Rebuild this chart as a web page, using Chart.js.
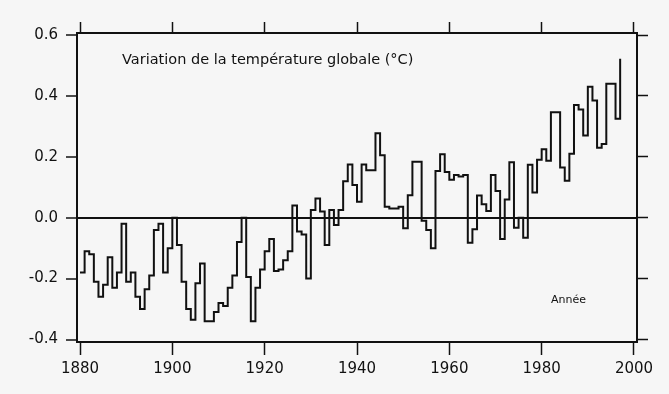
<!DOCTYPE html>
<html lang="fr">
<head>
<meta charset="utf-8">
<title>Variation de la température globale</title>
<script src="https://cdn.jsdelivr.net/npm/chart.js@4.4.1/dist/chart.umd.min.js"></script>
<style>
  html, body { margin: 0; padding: 0; background: #f6f6f6; }
  #graficoTemp { display: block; }
</style>
</head>
<body>
<canvas id="graficoTemp" width="669" height="394"></canvas>
<script>
// valeurs (écart en °C)
const annees = [
  1880, 1881, 1882, 1883, 1884, 1885, 1886, 1887, 1888, 1889,
  1890, 1891, 1892, 1893, 1894, 1895, 1896, 1897, 1898, 1899,
  1900, 1901, 1902, 1903, 1904, 1905, 1906, 1907, 1908, 1909,
  1910, 1911, 1912, 1913, 1914, 1915, 1916, 1917, 1918, 1919,
  1920, 1921, 1922, 1923, 1924, 1925, 1926, 1927, 1928, 1929,
  1930, 1931, 1932, 1933, 1934, 1935, 1936, 1937, 1938, 1939,
  1940, 1941, 1942, 1943, 1944, 1945, 1946, 1947, 1948, 1949,
  1950, 1951, 1952, 1953, 1954, 1955, 1956, 1957, 1958, 1959,
  1960, 1961, 1962, 1963, 1964, 1965, 1966, 1967, 1968, 1969,
  1970, 1971, 1972, 1973, 1974, 1975, 1976, 1977, 1978, 1979,
  1980, 1981, 1982, 1983, 1984, 1985, 1986, 1987, 1988, 1989,
  1990, 1991, 1992, 1993, 1994, 1995, 1996, 1997
];
const temperatures = [
  -0.18, -0.11, -0.12, -0.21, -0.26, -0.22, -0.13, -0.23, -0.18, -0.02,
  -0.21, -0.18, -0.26, -0.30, -0.235, -0.19, -0.04, -0.02, -0.18, -0.10,
  0.00, -0.09, -0.21, -0.30, -0.335, -0.215, -0.15, -0.34, -0.34, -0.31,
  -0.28, -0.29, -0.23, -0.19, -0.08, 0.00, -0.195, -0.34, -0.23, -0.17,
  -0.11, -0.07, -0.175, -0.17, -0.14, -0.11, 0.04, -0.045, -0.055, -0.20,
  0.025, 0.063, 0.02, -0.09, 0.025, -0.024, 0.025, 0.12, 0.175, 0.107,
  0.052, 0.175, 0.156, 0.156, 0.277, 0.205, 0.036, 0.03, 0.03, 0.036,
  -0.035, 0.074, 0.184, 0.184, -0.01, -0.04, -0.10, 0.153, 0.208, 0.15,
  0.125, 0.14, 0.135, 0.14, -0.082, -0.038, 0.073, 0.044, 0.022, 0.14,
  0.088, -0.07, 0.06, 0.182, -0.033, 0.0, -0.066, 0.174, 0.083, 0.19,
  0.225, 0.187, 0.346, 0.346, 0.165, 0.121, 0.21, 0.37, 0.355, 0.27,
  0.43, 0.385, 0.23, 0.242, 0.44, 0.44, 0.325, 0.522
];
const anneesTicks = [1880, 1900, 1920, 1940, 1960, 1980, 2000];
const valeursTicks = [-0.4, -0.2, 0.0, 0.2, 0.4, 0.6];
const titre = 'Variation de la température globale (°C)';
const legendeX = 'Année';

const noir = '#111';
const police = '"DejaVu Sans", "Liberation Sans", sans-serif';

const ticksX = scale => { scale.ticks = anneesTicks.map(v => ({ value: v })); };
const ticksY = scale => { scale.ticks = valeursTicks.map(v => ({ value: v })); };

// textes posés dans le cadre
const textes = {
  id: 'textes',
  afterDraw(chart) {
    const ctx = chart.ctx;
    ctx.save();
    ctx.fillStyle = noir;
    ctx.textBaseline = 'middle';
    ctx.font = '14.5px ' + police;
    ctx.fillText(titre, 122, 60);
    ctx.font = '11px ' + police;
    ctx.fillText(legendeX, 551, 300);
    ctx.restore();
  }
};

const canvas = document.getElementById('graficoTemp');
const ctx = canvas.getContext('2d');

window.graficoTemp = new Chart(ctx, {
  type: 'line',
  data: {
    datasets: [{
      label: titre,
      data: annees.map((a, i) => ({ x: a, y: temperatures[i] })),
      borderColor: noir,
      borderWidth: 2,
      stepped: true,
      pointRadius: 0,
      fill: false,
      borderJoinStyle: 'miter',
      xAxisID: 'x',
      yAxisID: 'y'
    }]
  },
  options: {
    responsive: false,
    animation: false,
    devicePixelRatio: 1,
    layout: { padding: 0 },
    plugins: { legend: { display: false }, tooltip: { enabled: false } },
    scales: {
      x: {
        type: 'linear', position: 'bottom', min: 1879.35, max: 2000.65,
        afterBuildTicks: ticksX,
        afterFit: s => { s.height = 52; },
        grid: { drawOnChartArea: false, tickLength: 13, tickColor: noir, tickWidth: 1.5 },
        border: { color: noir, width: 2 },
        ticks: {
          color: noir, font: { family: police, size: 15 }, padding: 5, maxRotation: 0,
          callback: v => String(v)
        }
      },
      x2: {
        type: 'linear', position: 'top', min: 1879.35, max: 2000.65,
        afterBuildTicks: ticksX,
        afterFit: s => { s.height = 33; },
        grid: { drawOnChartArea: false, tickLength: 11, tickColor: noir, tickWidth: 1.5 },
        border: { color: noir, width: 2 },
        ticks: { display: false }
      },
      y: {
        type: 'linear', position: 'left', min: -0.4082, max: 0.6066,
        afterBuildTicks: ticksY,
        afterFit: s => { s.width = 77; },
        grid: {
          drawOnChartArea: true, tickLength: 11, tickColor: noir, tickWidth: 1.5,
          color: c => (c.tick && c.tick.value === 0 ? noir : 'rgba(0,0,0,0)'),
          lineWidth: 2
        },
        border: { color: noir, width: 2 },
        ticks: {
          color: noir, font: { family: police, size: 15 }, padding: 8,
          callback: v => v.toFixed(1)
        }
      },
      y2: {
        type: 'linear', position: 'right', min: -0.4082, max: 0.6066,
        afterBuildTicks: ticksY,
        afterFit: s => { s.width = 32; },
        grid: { drawOnChartArea: false, tickLength: 11, tickColor: noir, tickWidth: 1.5 },
        border: { color: noir, width: 2 },
        ticks: { display: false }
      }
    }
  },
  plugins: [textes]
});
</script>
</body>
</html>
